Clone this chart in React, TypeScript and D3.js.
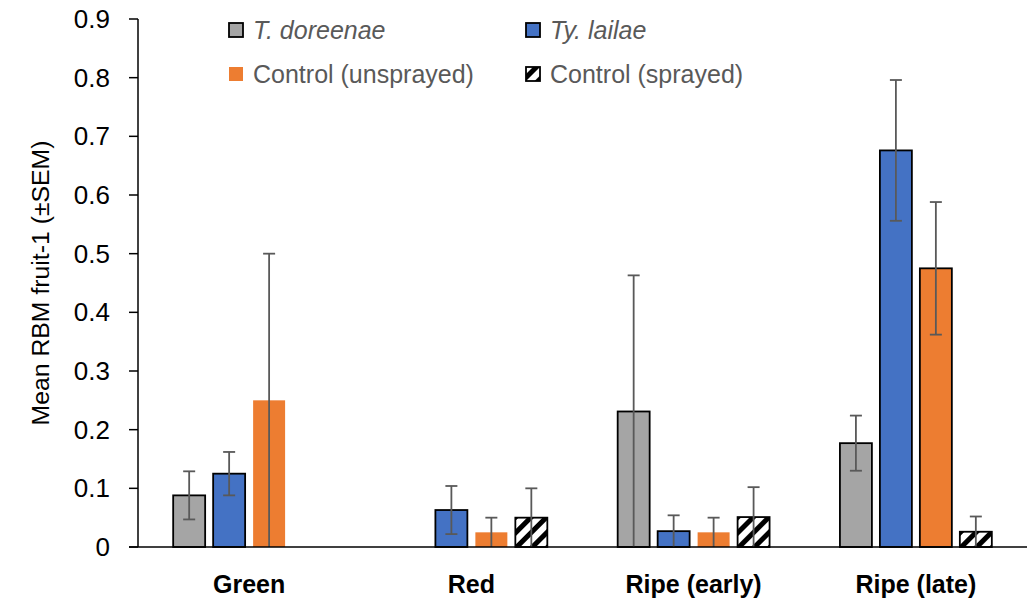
import { useEffect } from 'react'
import * as d3 from 'd3'

const categories = ['Green', 'Red', 'Ripe (early)', 'Ripe (late)']
const seriesNames = ['T. doreenae', 'Ty. lailae', 'Control (unsprayed)', 'Control (sprayed)']

const tDoreenae = [0.088, 0, 0.231, 0.177]
const tDoreenaeSem = [0.041, 0, 0.232, 0.047]
const tyLailae = [0.125, 0.063, 0.027, 0.676]
const tyLailaeSem = [0.037, 0.041, 0.027, 0.12]
const controlUnsprayed = [0.25, 0.025, 0.025, 0.475]
const controlUnsprayedSem = [0.25, 0.025, 0.025, 0.113]
const controlSprayed = [0, 0.05, 0.051, 0.026]
const controlSprayedSem = [0, 0.05, 0.051, 0.026]

const yTicks = [0, 0.1, 0.2, 0.3, 0.4, 0.5, 0.6, 0.7, 0.8, 0.9]

const W = 1030
const H = 605
const AXIS_X = 138
const RIGHT = 1027
const TOP = 19
const BOTTOM = 547
const FONT = "'Liberation Sans', Arial, sans-serif"
const ERR = '#595959'
const FILLS = ['#A5A5A5', '#4472C4', '#ED7D31', 'url(#hatch)']
const OUTLINED = [true, true, false, true]
// the unsprayed control only has an outline in this group
const OUTLINED_UNSPRAYED = new Set(['Ripe (late)'])

const values = [tDoreenae, tyLailae, controlUnsprayed, controlSprayed]
const sems = [tDoreenaeSem, tyLailaeSem, controlUnsprayedSem, controlSprayedSem]

export default function App() {
  useEffect(() => {
    document.body.style.margin = '0'
  }, [])

  const x0 = d3.scaleBand().domain(categories).range([AXIS_X, RIGHT]).padding(0)
  const x1 = d3
    .scaleBand()
    .domain(seriesNames)
    .range([0, x0.bandwidth()])
    .paddingInner(0.2)
    .paddingOuter(0.88)
  const y = d3.scaleLinear().domain([0, 0.9]).range([BOTTOM, TOP])
  const fmt = (d: number) => (d === 0 ? '0' : d3.format('.1f')(d))

  const legend = [
    { col: 0, row: 0, italic: true },
    { col: 1, row: 0, italic: true },
    { col: 0, row: 1, italic: false },
    { col: 1, row: 1, italic: false },
  ]

  return (
    <svg width={W} height={H} style={{ display: 'block', fontFamily: FONT }}>
      <defs>
        <pattern id="hatch" patternUnits="userSpaceOnUse" width={11} height={11} patternTransform="rotate(45)">
          <rect x={0} y={0} width={11} height={11} fill="#fff" />
          <rect x={0} y={0} width={5} height={11} fill="#000" />
        </pattern>
      </defs>

      {/* bars */}
      {categories.map((cat, ci) => (
        <g key={cat} transform={`translate(${x0(cat)},0)`}>
          {seriesNames.map((s, si) => {
            const v = values[si][ci]
            if (v <= 0) return null
            const outlined = OUTLINED[si] || (si === 2 && OUTLINED_UNSPRAYED.has(cat))
            return (
              <rect
                key={s}
                x={x1(s)}
                y={y(v)}
                width={x1.bandwidth()}
                height={y(0) - y(v)}
                fill={FILLS[si]}
                stroke={outlined ? '#000' : 'none'}
                strokeWidth={1.8}
              />
            )
          })}
          {seriesNames.map((s, si) => {
            const v = values[si][ci]
            const e = sems[si][ci]
            if (e <= 0) return null
            const cx = x1(s)! + x1.bandwidth() / 2
            const lo = Math.max(0, v - e)
            const hi = v + e
            return (
              <g key={s} stroke={ERR} strokeWidth={1.8}>
                <line x1={cx} x2={cx} y1={y(lo)} y2={y(hi)} />
                <line x1={cx - 6} x2={cx + 6} y1={y(hi)} y2={y(hi)} />
                {lo > 0 && <line x1={cx - 6} x2={cx + 6} y1={y(lo)} y2={y(lo)} />}
              </g>
            )
          })}
        </g>
      ))}

      {/* y axis */}
      <line x1={AXIS_X} x2={AXIS_X} y1={TOP} y2={BOTTOM} stroke="#000" strokeWidth={1.5} />
      {yTicks.map((t) => (
        <g key={t} transform={`translate(0,${y(t)})`}>
          <line x1={AXIS_X - 9} x2={AXIS_X} stroke="#000" strokeWidth={1.5} />
          <text x={AXIS_X - 28} dy="0.35em" textAnchor="end" fontSize={26} fill="#000">
            {fmt(t)}
          </text>
        </g>
      ))}
      <text
        transform={`translate(40,${(TOP + BOTTOM) / 2}) rotate(-90)`}
        textAnchor="middle"
        dy="0.35em"
        fontSize={24.8}
        fill="#000"
      >
        Mean RBM fruit-1 (±SEM)
      </text>

      {/* x axis */}
      <line x1={AXIS_X - 9} x2={RIGHT} y1={BOTTOM} y2={BOTTOM} stroke="#000" strokeWidth={1.5} />
      {categories.map((cat) => (
        <text
          key={cat}
          x={x0(cat)! + x0.bandwidth() / 2}
          y={593}
          textAnchor="middle"
          fontSize={25}
          fontWeight="bold"
          fill="#000"
        >
          {cat}
        </text>
      ))}

      {/* legend */}
      {legend.map((l, i) => {
        const lx = l.col === 0 ? 229 : 526
        const ly = l.row === 0 ? 30 : 74
        return (
          <g key={seriesNames[i]} transform={`translate(${lx},${ly})`}>
            <rect
              x={0}
              y={-7}
              width={14}
              height={14}
              fill={FILLS[i]}
              stroke={OUTLINED[i] ? '#000' : 'none'}
              strokeWidth={1.8}
            />
            <text x={24} dy="0.35em" fontSize={25} fill="#595959" fontStyle={l.italic ? 'italic' : 'normal'}>
              {seriesNames[i]}
            </text>
          </g>
        )
      })}
    </svg>
  )
}
